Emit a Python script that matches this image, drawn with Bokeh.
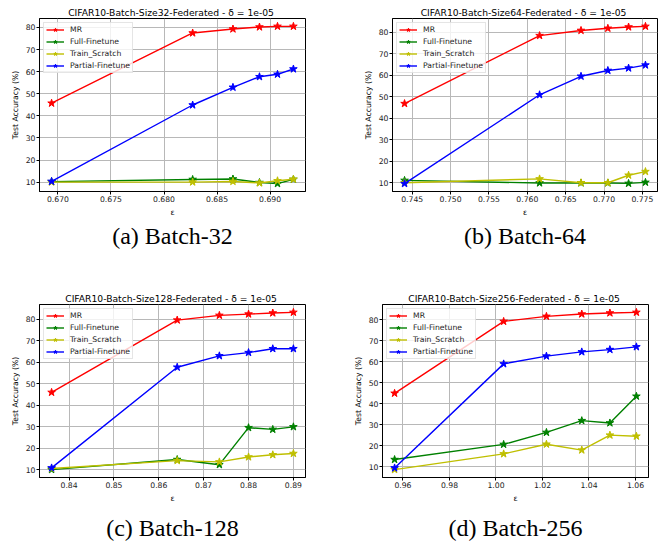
from bokeh.plotting import figure
from bokeh.layouts import column, row
from bokeh.models import Range1d, FixedTicker, PrintfTickFormatter, Title
from bokeh.embed import file_html
from bokeh.resources import INLINE

series_names = ["MR", "Full-Finetune", "Train_Scratch", "Partial-Finetune"]
series_colors = ["#ff0000", "#008000", "#bfbf00", "#0000ff"]

# ---- Batch-32 ----
eps_32 = [0.6694, 0.6827, 0.6865, 0.6890, 0.6907, 0.6922]
mr_32 = [45.7, 77.5, 79.3, 80.2, 80.5, 80.5]
full_32 = [10.2, 11.2, 11.4, 9.8, 9.3, 11.2]
scratch_32 = [10.0, 10.0, 10.3, 9.6, 10.6, 11.3]
partial_32 = [10.3, 44.9, 52.9, 57.7, 58.8, 61.2]
xticks_32 = [0.670, 0.675, 0.680, 0.685, 0.690]

# ---- Batch-64 ----
eps_64 = [0.7440, 0.7616, 0.7670, 0.7705, 0.7732, 0.7754]
mr_64 = [46.9, 78.5, 80.9, 81.9, 82.5, 82.8]
full_64 = [11.2, 10.0, 10.0, 10.0, 9.8, 10.3]
scratch_64 = [10.1, 11.9, 10.1, 10.1, 13.6, 15.3]
partial_64 = [9.7, 51.0, 59.6, 62.3, 63.4, 64.8]
xticks_64 = [0.745, 0.750, 0.755, 0.760, 0.765, 0.770, 0.775]

# ---- Batch-128 ----
eps_128 = [0.8361, 0.8641, 0.8735, 0.8800, 0.8854, 0.8900]
mr_128 = [45.9, 79.5, 81.7, 82.3, 82.8, 83.1]
full_128 = [10.0, 14.7, 12.3, 29.5, 28.7, 29.9]
scratch_128 = [10.5, 14.2, 13.6, 15.9, 16.9, 17.5]
partial_128 = [10.8, 57.6, 62.9, 64.4, 66.2, 66.2]
xticks_128 = [0.84, 0.85, 0.86, 0.87, 0.88, 0.89]

# ---- Batch-256 ----
eps_256 = [0.9564, 1.0033, 1.0217, 1.0369, 1.0490, 1.0604]
mr_256 = [45.0, 79.2, 81.6, 82.7, 83.2, 83.5]
full_256 = [13.5, 20.7, 26.4, 32.0, 30.9, 43.6]
scratch_256 = [8.7, 16.2, 20.8, 18.0, 25.1, 24.6]
partial_256 = [9.5, 59.0, 62.7, 64.7, 65.8, 67.1]
xticks_256 = [0.96, 0.98, 1.00, 1.02, 1.04, 1.06]

yticks = [10, 20, 30, 40, 50, 60, 70, 80]

titles = ["CIFAR10-Batch-Size32-Federated -  \u03b4 = 1e-05",
          "CIFAR10-Batch-Size64-Federated -  \u03b4 = 1e-05",
          "CIFAR10-Batch-Size128-Federated -  \u03b4 = 1e-05",
          "CIFAR10-Batch-Size256-Federated -  \u03b4 = 1e-05"]
captions = ["(a) Batch-32", "(b) Batch-64", "(c) Batch-128", "(d) Batch-256"]

FONT = "DejaVu Sans"


def padded(vals):
    lo, hi = min(vals), max(vals)
    d = (hi - lo) * 0.05
    return Range1d(lo - d, hi + d)


def panel(title, caption, eps, series, xticks, fmt, fw, bl, br, bt, bb, cap_standoff):
    allx = list(eps)
    ally = [v for s in series for v in s]
    p = figure(frame_width=fw, frame_height=173, output_backend="svg",
               toolbar_location=None, x_range=padded(allx), y_range=padded(ally),
               min_border_left=bl, min_border_right=br,
               min_border_top=bt, min_border_bottom=bb)
    p.title.text = title
    p.title.align = "center"
    p.title.text_font = FONT
    p.title.text_font_size = "9.2px"
    p.title.text_font_style = "normal"
    p.title.text_color = "black"
    p.title.standoff = 2
    p.title.offset = 0

    for name, color, ys in zip(series_names, series_colors, series):
        p.line(eps, ys, color=color, line_width=1.4, legend_label=name)
        p.scatter(eps, ys, marker="star", size=8, color=color, legend_label=name)

    p.xaxis.ticker = FixedTicker(ticks=xticks)
    p.xaxis.formatter = PrintfTickFormatter(format=fmt)
    p.yaxis.ticker = FixedTicker(ticks=yticks)
    p.xaxis.axis_label = "\u03b5"
    p.yaxis.axis_label = "Test Accuracy (%)"
    for ax in (p.xaxis, p.yaxis):
        ax.axis_label_text_font = FONT
        ax.axis_label_text_font_size = "7.7px"
        ax.axis_label_text_font_style = "normal"
        ax.axis_label_text_color = "black"
        ax.axis_label_standoff = 3
        ax.major_label_text_font = FONT
        ax.major_label_text_font_size = "7.7px"
        ax.major_label_text_color = "#1a1a1a"
        ax.major_label_standoff = 1
        ax.major_tick_out = 3
        ax.major_tick_in = 0
        ax.minor_tick_out = 0
        ax.minor_tick_in = 0
        ax.axis_line_color = "black"
        ax.major_tick_line_color = "black"
    p.grid.grid_line_color = "#b8b8b8"
    p.grid.grid_line_width = 1
    p.outline_line_color = "black"
    p.outline_line_width = 1
    p.outline_line_alpha = 1

    lg = p.legend[0]
    lg.location = "top_left"
    lg.margin = 4
    lg.padding = 2
    lg.spacing = 3
    lg.label_height = 9
    lg.glyph_height = 9
    lg.glyph_width = 18
    lg.label_standoff = 6
    lg.label_text_font = FONT
    lg.label_text_font_size = "7.7px"
    lg.label_text_color = "#1a1a1a"
    lg.border_line_color = "#cccccc"
    lg.border_line_width = 1
    lg.background_fill_alpha = 0.8

    cap = Title(text=caption, align="center", text_font="Liberation Serif",
                text_font_size="24px", text_font_style="normal",
                text_color="black", standoff=cap_standoff)
    p.add_layout(cap, "below")
    return p


pa = panel(titles[0], captions[0], eps_32,
           [mr_32, full_32, scratch_32, partial_32], xticks_32, "%.3f",
           266, 39, 30, 18, 95, 2)
pb = panel(titles[1], captions[1], eps_64,
           [mr_64, full_64, scratch_64, partial_64], xticks_64, "%.3f",
           265, 57, 8, 18, 95, 2)
pc = panel(titles[2], captions[2], eps_128,
           [mr_128, full_128, scratch_128, partial_128], xticks_128, "%.2f",
           266, 39, 30, 18, 64, 15)
pd = panel(titles[3], captions[3], eps_256,
           [mr_256, full_256, scratch_256, partial_256], xticks_256, "%.2f",
           266, 47, 10, 18, 64, 15)

layout = column(row(pa, pb), row(pc, pd))
open("out.html", "w").write(file_html(layout, INLINE))
